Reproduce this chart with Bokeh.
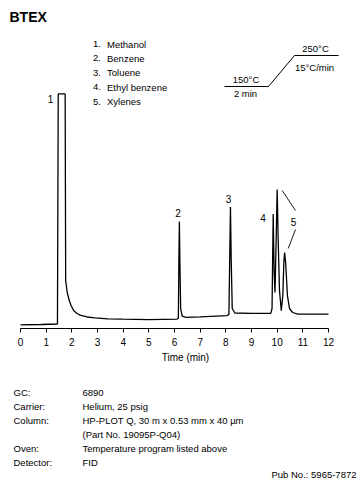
from bokeh.plotting import figure
from bokeh.models import Range1d, FixedTicker, Label, LinearAxis
from bokeh.embed import file_html
from bokeh.resources import INLINE

# ---- data ----
time_min = [0.00, 0.80, 1.44, 1.47, 1.74, 1.76, 1.82, 1.90, 1.97, 2.07, 2.20, 2.35,
            2.60, 2.90, 3.40, 4.00, 5.00, 6.10, 6.15, 6.17, 6.19, 6.21, 6.24, 6.30,
            6.45, 7.00, 8.05, 8.12, 8.15, 8.18, 8.21, 8.25, 8.35, 9.00, 9.75, 9.80,
            9.845, 9.88, 9.915, 9.96, 10.00, 10.04, 10.09, 10.16, 10.22, 10.26, 10.29,
            10.33, 10.40, 10.48, 10.60, 10.80, 12.00]
signal = [1.16, 1.25, 1.41, 73.3, 73.3, 15.0, 11.25, 8.75, 7.2, 5.6, 4.7, 4.1,
          3.6, 3.3, 3.0, 2.9, 2.8, 2.95, 3.2, 21.0, 33.4, 21.0, 6.2, 3.9,
          3.5, 3.65, 4.05, 4.4, 21.2, 38.0, 21.2, 6.25, 4.85, 4.75, 4.7, 6.25,
          35.8, 18.1, 11.25, 27.5, 43.4, 27.5, 11.9, 5.6, 10.3, 20.6, 23.75,
          20.6, 10.3, 6.25, 5.0, 4.5, 4.5]

peak_numbers = ["1", "2", "3", "4", "5"]
compounds = ["Methanol", "Benzene", "Toluene", "Ethyl benzene", "Xylenes"]
x_ticks = list(range(0, 13))

info_keys = ["GC:", "Carrier:", "Column:", "", "Oven:", "Detector:"]
info_vals = ["6890", "Helium, 25 psig", "HP-PLOT Q, 30 m x 0.53 mm x 40 \u00b5m",
             "(Part No. 19095P-Q04)", "Temperature program listed above", "FID"]

# ---- geometry helpers (page pixels -> data) ----
PXM = 25.667   # pixels per minute
PXV = 3.2      # pixels per signal unit
def dx(px):
    return (px - 20) / PXM
def dy(py):
    return (328 - py) / PXV

FONT = "Liberation Sans, Arial, Helvetica, sans-serif"

W, H = 364, 486
p = figure(width=W, height=H, output_backend="svg", toolbar_location=None,
           x_range=Range1d(dx(0), dx(W)), y_range=Range1d(dy(H), dy(0)),
           x_axis_location=None, y_axis_type=None,
           min_border_left=0, min_border_right=0,
           min_border_top=0, min_border_bottom=0)
p.outline_line_color = None
p.grid.visible = False
p.background_fill_color = "white"
p.border_fill_color = "white"

ax = LinearAxis(fixed_location=0, bounds=(0, 12),
                ticker=FixedTicker(ticks=x_ticks, minor_ticks=[]))
ax.major_tick_in = 0
ax.major_tick_out = 4
ax.minor_tick_out = 0
ax.axis_line_color = "black"
ax.axis_line_width = 1
ax.major_tick_line_color = "black"
ax.major_label_text_font = FONT
ax.major_label_text_font_size = "10px"
ax.major_label_text_color = "black"
ax.major_label_standoff = 5
p.add_layout(ax, "below")

# chromatogram
p.line(time_min, signal, line_color="black", line_width=1.3)

def add_text(text, px, py, size="9.5px", align="left", bold=False):
    p.add_layout(Label(x=dx(px), y=dy(py), text=text, text_font=FONT,
                       text_font_size=size, text_align=align,
                       text_baseline="middle", text_color="black",
                       text_font_style="bold" if bold else "normal"))

# title
add_text("BTEX", 9, 16, size="14px", bold=True)

# compound list
rows_y = [43.5, 57.9, 72.3, 86.7, 101.1]
for n, c, yy in zip(peak_numbers, compounds, rows_y):
    add_text(n + ".", 92.5, yy)
    add_text(c, 106.5, yy)

# temperature program sketch
p.line([dx(224), dx(268), dx(294), dx(338)], [dy(86), dy(86), dy(55), dy(55)],
       line_color="black", line_width=1)
add_text("150\u00b0C", 245.5, 79, align="center")
add_text("2 min", 245, 92.5, align="center")
add_text("250\u00b0C", 315, 48, align="center")
add_text("15\u00b0C/min", 314, 66.5, align="center")

# peak labels
add_text("1", 50, 98, size="10px", align="center")
add_text("2", 177.5, 212.5, size="10px", align="center")
add_text("3", 228, 198.5, size="10px", align="center")
add_text("4", 262.5, 217, size="10px", align="center")
add_text("5", 293, 221.5, size="10px", align="center")
p.line([dx(281.7), dx(295)], [dy(190), dy(210)], line_color="black", line_width=0.9)
p.line([dx(295), dx(287.7)], [dy(229), dy(248)], line_color="black", line_width=0.9)

# axis title
add_text("Time (min)", 185, 357, size="10px", align="center")

# method info
info_y = [392, 406, 420, 434, 448, 462]
for k, v, yy in zip(info_keys, info_vals, info_y):
    if k:
        add_text(k, 13, yy)
    add_text(v, 82, yy)
add_text("Pub No.: 5965-7872", 356, 473.5, align="right")

open("out.html", "w").write(file_html(p, INLINE))
